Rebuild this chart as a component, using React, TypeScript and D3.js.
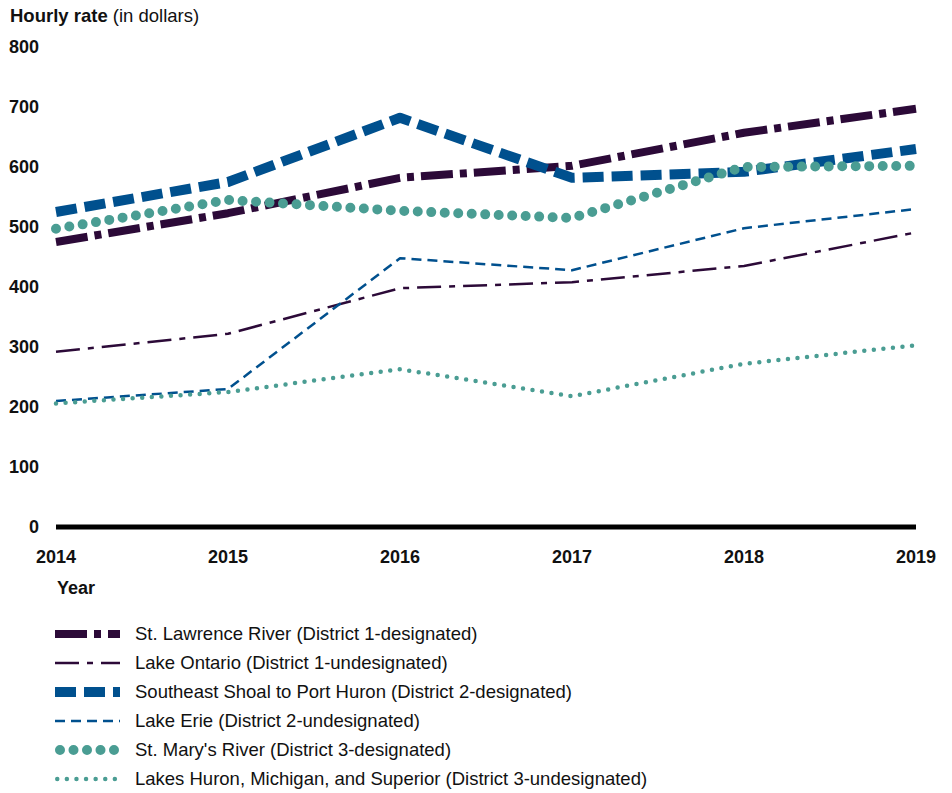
import React from 'react';
import { scaleLinear, scalePoint, line, curveLinear } from 'd3';

const years = ['2014', '2015', '2016', '2017', '2018', '2019'];
const yTicks = [0, 100, 200, 300, 400, 500, 600, 700, 800];

const stLawrence = [475, 523, 582, 602, 657, 697];
const lakeOntario = [292, 322, 398, 408, 435, 491];
const seShoal = [525, 575, 682, 582, 592, 630];
const lakeErie = [210, 230, 448, 428, 498, 530];
const stMarys = [497, 545, 527, 515, 600, 602];
const lakesHuron = [206, 225, 263, 218, 272, 303];

const labels = [
  'St. Lawrence River (District 1-designated)',
  'Lake Ontario (District 1-undesignated)',
  'Southeast Shoal to Port Huron (District 2-designated)',
  'Lake Erie (District 2-undesignated)',
  "St. Mary's River (District 3-designated)",
  'Lakes Huron, Michigan, and Superior (District 3-undesignated)',
];

const PURPLE = '#2c0a38';
const BLUE = '#00508e';
const TEAL = '#4a9d93';

const series = [
  { values: stLawrence, color: PURPLE, width: 8, dash: '32,7,7,7', cap: 'butt' },
  { values: lakeOntario, color: PURPLE, width: 2.5, dash: '24,8,6,8', cap: 'butt' },
  { values: seShoal, color: BLUE, width: 10, dash: '21,8', cap: 'butt' },
  { values: lakeErie, color: BLUE, width: 2.5, dash: '10,6', cap: 'butt' },
  { values: stMarys, color: TEAL, width: 10, dash: '0,13.5', cap: 'round' },
  { values: lakesHuron, color: TEAL, width: 4.5, dash: '0,9.6', cap: 'round' },
];

const FONT = 'Arial, "Liberation Sans", sans-serif';

export default function App() {
  const x = scalePoint<string>().domain(years).range([56, 916]);
  const y = scaleLinear().domain([0, 800]).range([527, 47]);

  const gen = line<number>()
    .x((_, i) => x(years[i]) as number)
    .y(d => y(d))
    .curve(curveLinear);

  return (
    <svg
      width={952}
      height={793}
      style={{ position: 'absolute', left: 0, top: 0, background: '#fff' }}
      fontFamily={FONT}
    >
      <text x={10} y={16} dy="0.35em" fontSize={18.5} fill="#111">
        <tspan fontWeight="bold">Hourly rate</tspan>
        <tspan> (in dollars)</tspan>
      </text>

      {yTicks.map(t => (
        <text key={t} x={39} y={y(t)} dy="0.35em" textAnchor="end" fontSize={18} fontWeight="bold" fill="#111">
          {t}
        </text>
      ))}

      {years.map(yr => (
        <text key={yr} x={x(yr)} y={557} dy="0.35em" textAnchor="middle" fontSize={18} fontWeight="bold" fill="#111">
          {yr}
        </text>
      ))}
      <text x={57} y={588} dy="0.35em" fontSize={18} fontWeight="bold" fill="#111">Year</text>

      <line x1={x(years[0])} x2={x(years[years.length - 1])} y1={y(0)} y2={y(0)} stroke="#000" strokeWidth={5} />

      {series.map((s, i) => (
        <path
          key={i}
          d={gen(s.values) || ''}
          fill="none"
          stroke={s.color}
          strokeWidth={s.width}
          strokeDasharray={s.dash}
          strokeLinecap={s.cap as any}
          strokeLinejoin="round"
        />
      ))}

      {series.map((s, i) => {
        const ly = 634 + i * 29;
        return (
          <g key={i}>
            <line
              x1={s.cap === 'round' ? 55 + s.width / 2 : 55}
              x2={120}
              y1={ly}
              y2={ly}
              stroke={s.color}
              strokeWidth={s.width}
              strokeDasharray={s.dash}
              strokeLinecap={s.cap as any}
            />
            <text x={135} y={ly} dy="0.35em" fontSize={18.5} fill="#111">
              {labels[i]}
            </text>
          </g>
        );
      })}
    </svg>
  );
}
